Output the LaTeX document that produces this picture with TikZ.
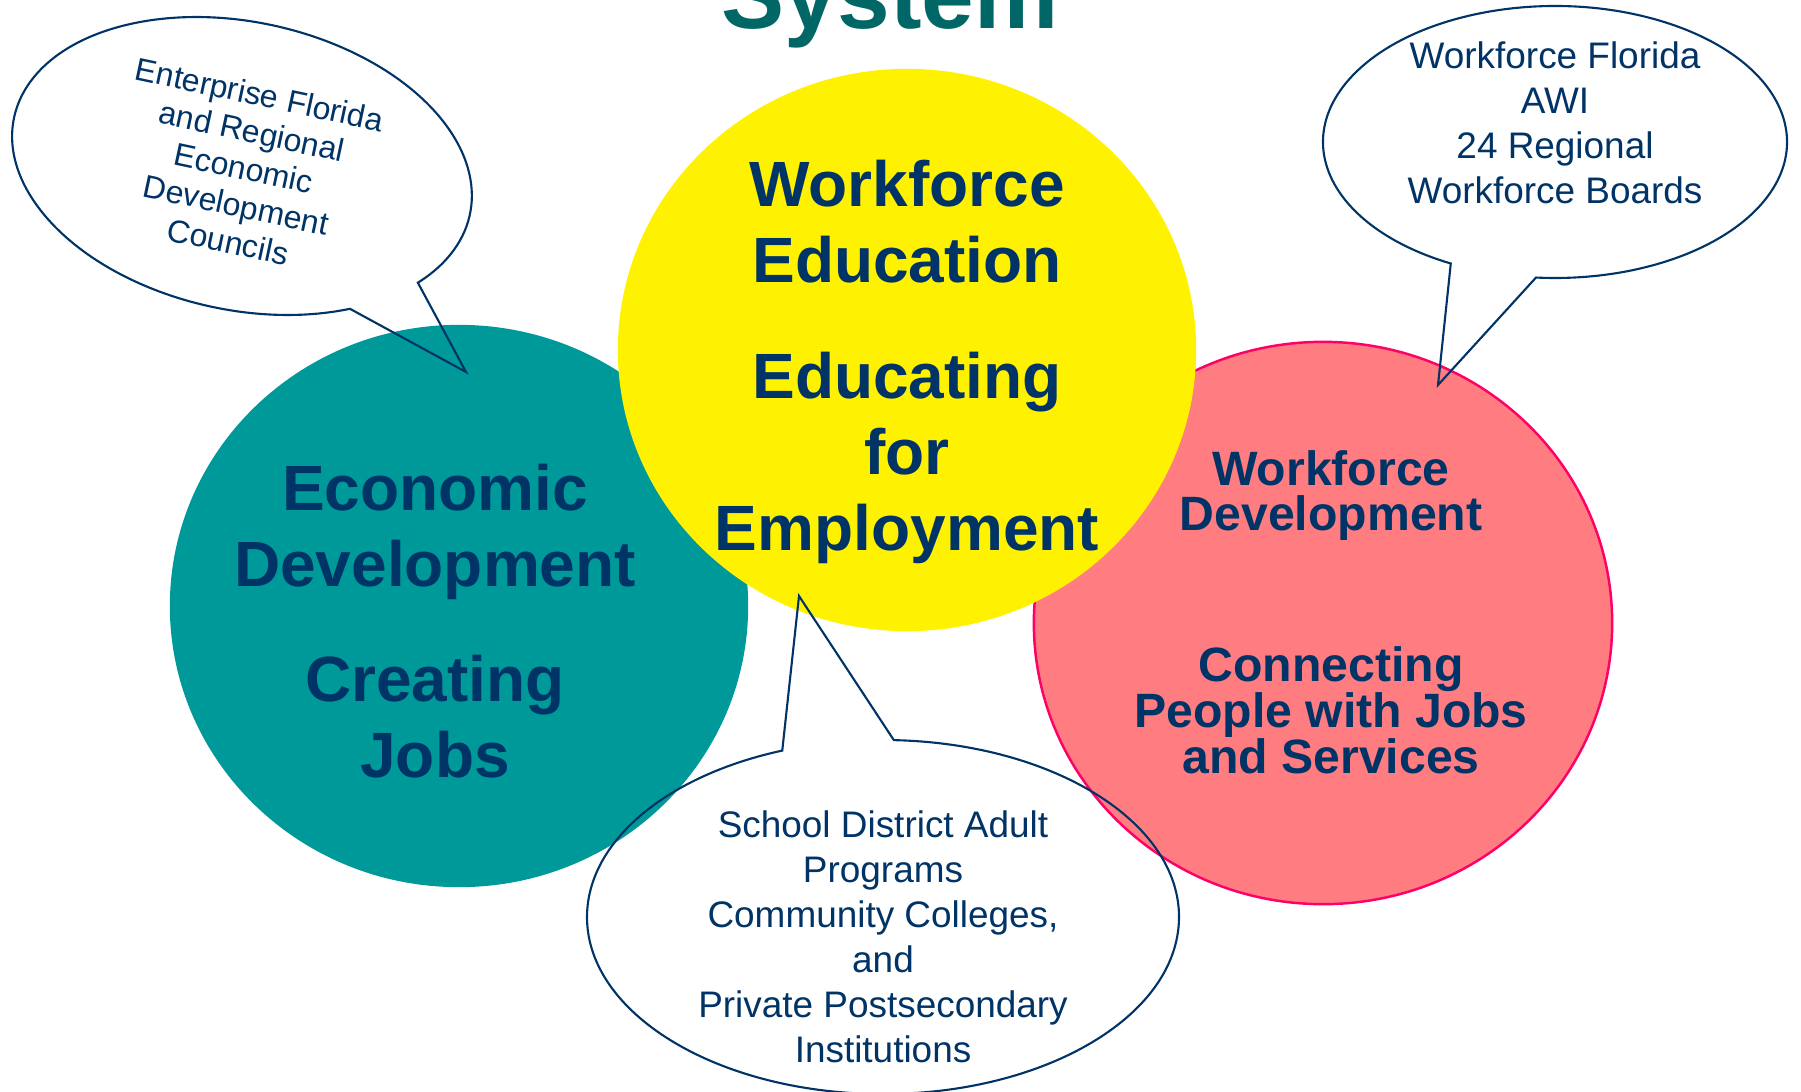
\documentclass[tikz,border=0pt]{standalone}
\usepackage{fontspec}
\setmainfont{Liberation Sans}
\usepackage{tikz}
\usetikzlibrary{positioning, shapes.geometric}

\definecolor{navy}{HTML}{003366}
\definecolor{tealfill}{HTML}{009999}
\definecolor{rosefill}{HTML}{FF7C80}
\definecolor{roseline}{HTML}{FF0066}
\definecolor{titleteal}{HTML}{006666}
\setlength{\lineskiplimit}{-5pt}

\begin{document}
\begin{tikzpicture}[x=0.01cm, y=-0.01cm,
    bubble/.style={ellipse, minimum width=5.78cm, minimum height=5.62cm, inner sep=0pt},
    bigtext/.style={text=navy, align=center, inner sep=0pt,
        font=\bfseries\fontsize{18.2pt}{21.6pt}\selectfont},
    midtext/.style={text=navy, align=center, inner sep=0pt,
        font=\bfseries\fontsize{13.7pt}{12.95pt}\selectfont},
    saytext/.style={text=navy, align=center, inner sep=0pt,
        font=\fontsize{10.5pt}{12.8pt}\selectfont},
    callout/.style={draw=navy, line width=0.6pt, line join=miter}]

    \path[use as bounding box, fill=white] (0,0) rectangle (1801,1091);

    % title, cut off at the top
    \node[anchor=base, text=titleteal, font=\bfseries\fontsize{26.9pt}{30pt}\selectfont] (title) at (890,29) {System};

    % the three circles
    \node[bubble, fill=tealfill] (econ) at (459,606) {};
    \node[bubble, fill=rosefill, draw=roseline, line width=0.7pt] (wfd) at (1323,623) {};
    \node[bubble, fill=yellow] (wfe) at (907,350) {};

    \node[bigtext] (econtext) at (435,621) {Economic\\Development\\[11pt]Creating\\Jobs};
    \node[bigtext] (wfetext) at (907,362) {Workforce\\Education\\[11.4pt]Educating\\for\\Employment};
    \node[midtext] (wfdtext) at (1331,612) {Workforce\\Development\\[30pt]Connecting\\People with Jobs\\and Services};

    % callouts
    \coordinate (edctip) at (466,372);
    \coordinate (wffltip) at (1438,385);
    \coordinate (schooltip) at (799,596);

    \node[saytext, rotate=-12, font=\fontsize{9.1pt}{10.7pt}\selectfont] (edctext) at (244,168)
        {Enterprise Florida\\and Regional\\Economic\\Development\\Councils};
    \node[saytext] (wffltext) at (1555,123) {Workforce Florida\\AWI\\24 Regional\\Workforce Boards};
    \node[saytext] (schooltext) at (883,937)
        {School District Adult\\Programs\\Community Colleges,\\and\\Private Postsecondary\\Institutions};

    \begin{scope}[shift={(242,166)}, rotate=-12]
        \draw[callout] (54.5:233 and 144) arc[start angle=54.5, end angle=392.6, x radius=233, y radius=144] -- (edctip) -- cycle;
    \end{scope}
    \begin{scope}[shift={(1555,142)}]
        \draw[callout] (116.7:232 and 136) arc[start angle=116.7, end angle=454.7, x radius=232, y radius=136] -- (wffltip) -- cycle;
    \end{scope}
    \begin{scope}[shift={(883,917)}]
        \draw[callout] (272.1:296 and 177) arc[start angle=272.1, end angle=610.1, x radius=296, y radius=177] -- (schooltip) -- cycle;
    \end{scope}
\end{tikzpicture}
\end{document}
